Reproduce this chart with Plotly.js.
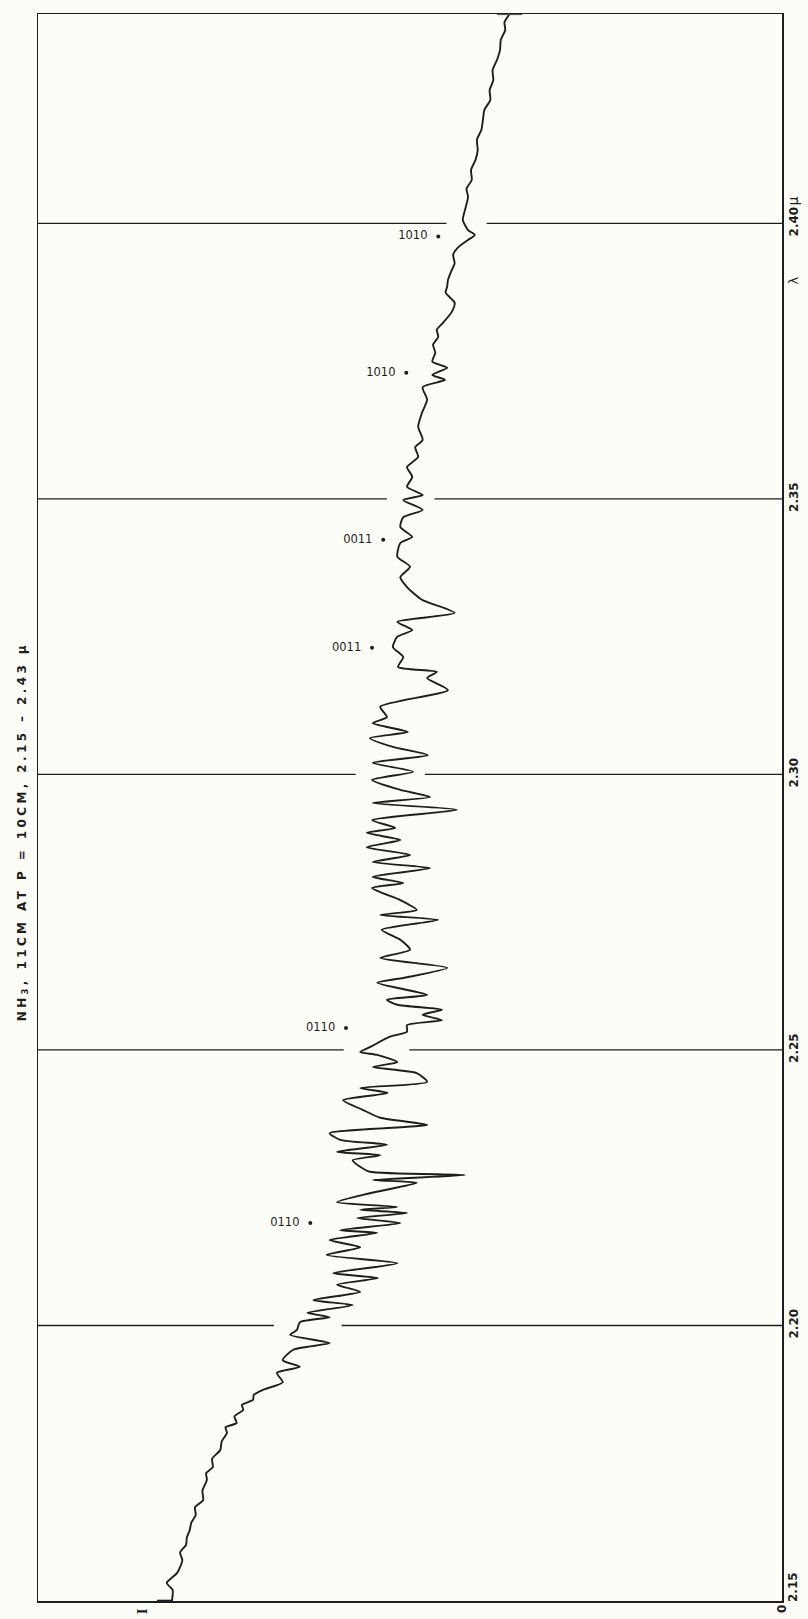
<!DOCTYPE html>
<html>
<head>
<meta charset="utf-8">
<script src="https://cdn.plot.ly/plotly-3.0.1.min.js"></script>
<style>
  html, body { margin: 0; padding: 0; background: #fdfdf8; }
  #chart { width: 808px; height: 1619px; }
</style>
</head>
<body>
<div id="chart"></div>
<script>
// NH3 absorption spectrum, 2.15 - 2.43 micron, drawn on its side:
// wavelength runs up the page, intensity grows to the left from 0.
const wavelength = [
  2.1500, 2.1520, 2.1533, 2.1551, 2.1574, 2.1588, 2.1602, 2.1615, 2.1629, 2.1642,
  2.1656, 2.1670, 2.1683, 2.1700, 2.1720, 2.1732, 2.1743, 2.1758, 2.1774, 2.1790,
  2.1805, 2.1815, 2.1823, 2.1835, 2.1847, 2.1856, 2.1865, 2.1874, 2.1883, 2.1897,
  2.1914, 2.1925, 2.1937, 2.1956, 2.1968, 2.1983, 2.1992, 2.2006, 2.2015, 2.2023,
  2.2037, 2.2046, 2.2061, 2.2074, 2.2086, 2.2095, 2.2113, 2.2128, 2.2142, 2.2155,
  2.2168, 2.2173, 2.2186, 2.2195, 2.2204, 2.2210, 2.2215, 2.2224, 2.2240, 2.2259,
  2.2264, 2.2273, 2.2279, 2.2288, 2.2300, 2.2309, 2.2315, 2.2328, 2.2337, 2.2349,
  2.2364, 2.2377, 2.2391, 2.2409, 2.2422, 2.2431, 2.2442, 2.2458, 2.2469, 2.2478,
  2.2491, 2.2496, 2.2505, 2.2524, 2.2533, 2.2545, 2.2554, 2.2564, 2.2573, 2.2582,
  2.2591, 2.2600, 2.2622, 2.2632, 2.2649, 2.2667, 2.2682, 2.2700, 2.2718, 2.2736,
  2.2745, 2.2754, 2.2772, 2.2794, 2.2803, 2.2814, 2.2830, 2.2841, 2.2854, 2.2868,
  2.2881, 2.2894, 2.2903, 2.2917, 2.2936, 2.2948, 2.2959, 2.2972, 2.2990, 2.3005,
  2.3021, 2.3035, 2.3050, 2.3066, 2.3077, 2.3093, 2.3104, 2.3123, 2.3153, 2.3175,
  2.3186, 2.3195, 2.3213, 2.3231, 2.3250, 2.3262, 2.3277, 2.3293, 2.3317, 2.3340,
  2.3358, 2.3377, 2.3395, 2.3420, 2.3431, 2.3449, 2.3467, 2.3480, 2.3498, 2.3507,
  2.3522, 2.3540, 2.3558, 2.3576, 2.3594, 2.3607, 2.3631, 2.3656, 2.3680, 2.3703,
  2.3716, 2.3725, 2.3738, 2.3749, 2.3765, 2.3780, 2.3794, 2.3807, 2.3819, 2.3839,
  2.3856, 2.3874, 2.3886, 2.3897, 2.3912, 2.3928, 2.3943, 2.3957, 2.3970, 2.3979,
  2.3988, 2.4006, 2.4025, 2.4048, 2.4063, 2.4079, 2.4097, 2.4115, 2.4133, 2.4152,
  2.4170, 2.4188, 2.4206, 2.4224, 2.4242, 2.4260, 2.4278, 2.4297, 2.4315, 2.4333,
  2.4351, 2.4365, 2.4380
];
const intensity = [
  82.0, 81.9, 82.7, 81.3, 80.6, 80.9, 80.1, 80.0, 79.6, 79.4,
  78.8, 78.9, 77.8, 77.9, 77.3, 77.4, 76.5, 76.6, 75.5, 75.3,
  74.6, 74.8, 73.3, 73.6, 72.4, 72.6, 71.1, 71.0, 69.8, 67.1,
  67.9, 64.8, 67.1, 65.7, 60.8, 66.1, 65.2, 64.8, 60.8, 63.8,
  57.7, 63.0, 56.7, 59.8, 54.3, 60.3, 51.7, 61.2, 56.7, 60.8,
  54.4, 59.4, 51.3, 57.1, 50.4, 56.7, 51.7, 59.8, 55.4, 49.1,
  55.0, 42.6, 55.4, 56.7, 57.7, 54.0, 59.8, 53.1, 59.4, 60.8,
  47.7, 54.0, 56.3, 59.0, 53.0, 56.7, 47.7, 49.1, 55.0, 51.7,
  54.4, 56.7, 55.4, 52.7, 50.4, 50.4, 45.7, 48.3, 45.7, 51.7,
  53.1, 47.7, 54.4, 50.4, 45.0, 54.0, 50.0, 51.3, 53.8, 46.2,
  54.0, 49.1, 51.3, 55.1, 50.9, 55.0, 47.3, 55.0, 50.0, 55.8,
  51.3, 55.8, 52.0, 55.1, 43.7, 55.0, 47.3, 51.3, 55.1, 49.6,
  55.0, 47.6, 52.3, 55.4, 50.3, 55.0, 53.1, 54.0, 44.9, 47.7,
  46.4, 51.6, 50.9, 52.3, 51.7, 49.7, 51.7, 44.0, 48.4, 50.4,
  51.3, 50.0, 51.7, 51.3, 49.7, 51.3, 50.9, 48.3, 50.9, 48.3,
  50.4, 49.7, 50.4, 48.9, 49.3, 48.3, 48.9, 48.4, 47.7, 48.3,
  45.3, 47.0, 45.0, 47.0, 46.6, 46.9, 46.2, 46.4, 45.6, 44.4,
  44.0, 45.2, 45.0, 44.9, 44.5, 44.0, 44.2, 43.5, 42.2, 41.3,
  42.2, 42.9, 42.6, 42.2, 42.4, 41.7, 41.8, 41.2, 40.9, 41.0,
  40.4, 40.2, 40.0, 39.2, 39.3, 38.8, 38.9, 38.3, 37.9, 37.8,
  37.2, 37.3, 36.6
];

// Band markers with their vibrational labels
const bandWavelength = [2.3976, 2.3729, 2.3426, 2.3230, 2.2540, 2.2186];
const bandIntensity = [46.2, 50.5, 53.6, 55.1, 58.6, 63.4];
const bandLabels = ['1010', '1010', '0011', '0011', '0110', '0110'];

// Wavelength scale
const tickWavelengths = [2.20, 2.25, 2.30, 2.35, 2.40];
const tickLabels = ['2.20', '2.25', '2.30', '2.35', '2.40'];
const startWavelength = 2.15;
const endWavelength = 2.438;
const fullScale = 100;
const incidentLevel = 86;

const ink = '#1e1e1e';
const paper = '#fdfdf8';

// Reference lines stop short of the recorded trace on both sides
function gapAround(lam) {
  let lo = Infinity, hi = -Infinity;
  for (let i = 0; i < wavelength.length; i++) {
    if (Math.abs(wavelength[i] - lam) <= 0.003) {
      lo = Math.min(lo, intensity[i]);
      hi = Math.max(hi, intensity[i]);
    }
  }
  return [hi + 2.2, lo - 1.6];
}

const shapes = [];
tickWavelengths.forEach(lam => {
  const [leftEnd, rightStart] = gapAround(lam);
  shapes.push({type: 'line', xref: 'x', yref: 'y', x0: fullScale, x1: leftEnd, y0: lam, y1: lam,
               line: {color: ink, width: 1.3}});
  shapes.push({type: 'line', xref: 'x', yref: 'y', x0: rightStart, x1: 0, y0: lam, y1: lam,
               line: {color: ink, width: 1.3}});
});
// pen rest marks where the trace meets the frame
const firstI = intensity[0], lastI = intensity[intensity.length - 1];
shapes.push({type: 'line', xref: 'x', yref: 'y', x0: firstI + 2, x1: firstI, y0: startWavelength, y1: startWavelength,
             line: {color: ink, width: 2.6}});
shapes.push({type: 'line', xref: 'x', yref: 'y', x0: lastI + 1.7, x1: lastI - 1.7, y0: endWavelength, y1: endWavelength,
             line: {color: '#555', width: 2.2}});

const gapText = '\u00a0\u00a0';
const traces = [
  {
    x: intensity, y: wavelength, type: 'scatter', mode: 'lines',
    line: {color: ink, width: 1.9, shape: 'spline', smoothing: 0.6},
    hoverinfo: 'skip'
  },
  {
    x: bandIntensity, y: bandWavelength, type: 'scatter', mode: 'markers+text',
    marker: {color: ink, size: 4},
    text: bandLabels.map(s => s + gapText), textposition: 'middle left',
    textfont: {family: 'DejaVu Sans', size: 11.5, color: ink},
    hoverinfo: 'skip'
  }
];

const labelFont = {family: 'DejaVu Sans', size: 12, color: ink, weight: 'bold'};

function sideLabel(text, x, y, yshift, font, xref) {
  return {text: text, xref: xref || 'paper', yref: 'y', x: x, y: y, yshift: yshift,
          xanchor: 'center', yanchor: 'middle', textangle: -90, showarrow: false, font: font};
}

const layout = {
  width: 808, height: 1619,
  margin: {l: 38, r: 26, t: 14, b: 18},
  paper_bgcolor: paper, plot_bgcolor: paper,
  showlegend: false,
  xaxis: {
    range: [fullScale, 0], showgrid: false, zeroline: false,
    showline: true, mirror: true, linecolor: ink, linewidth: 1.5,
    ticks: '', showticklabels: false
  },
  yaxis: {
    range: [startWavelength, endWavelength], side: 'right',
    showgrid: false, zeroline: false,
    showline: true, mirror: true, linecolor: ink, linewidth: 1.5,
    ticks: '', tickvals: tickWavelengths, ticktext: tickLabels,
    tickangle: -90, tickfont: labelFont
  },
  shapes: shapes,
  annotations: [
    {
      text: '<span style="letter-spacing:3.4px">NH<sub>3</sub>, 11CM AT P = 10CM, 2.15 – 2.43 μ</span>',
      xref: 'paper', yref: 'paper', x: -0.0202, y: 0.485,
      xanchor: 'center', yanchor: 'middle', textangle: -90, showarrow: false,
      font: {family: 'DejaVu Sans', size: 12, color: ink, weight: 'bold'}
    },
    sideLabel('μ', 1.0148, 2.40, 22, {family: 'DejaVu Sans', size: 14, color: ink}),
    sideLabel('λ', 1.0148, 2.40, -57, {family: 'DejaVu Sans', size: 13, color: ink}),
    sideLabel('2.15', 1.0148, startWavelength, 14, labelFont),
    // intensity scale: zero at the right edge, incident level marked I
    sideLabel('0', 0, startWavelength, -8, {family: 'DejaVu Sans', size: 12, color: ink, weight: 'bold'}, 'x'),
    sideLabel('I', incidentLevel, startWavelength, -10, {family: 'Liberation Serif', size: 15, color: ink, weight: 'bold'}, 'x')
  ]
};

Plotly.newPlot('chart', traces, layout, {staticPlot: true});
</script>
</body>
</html>
